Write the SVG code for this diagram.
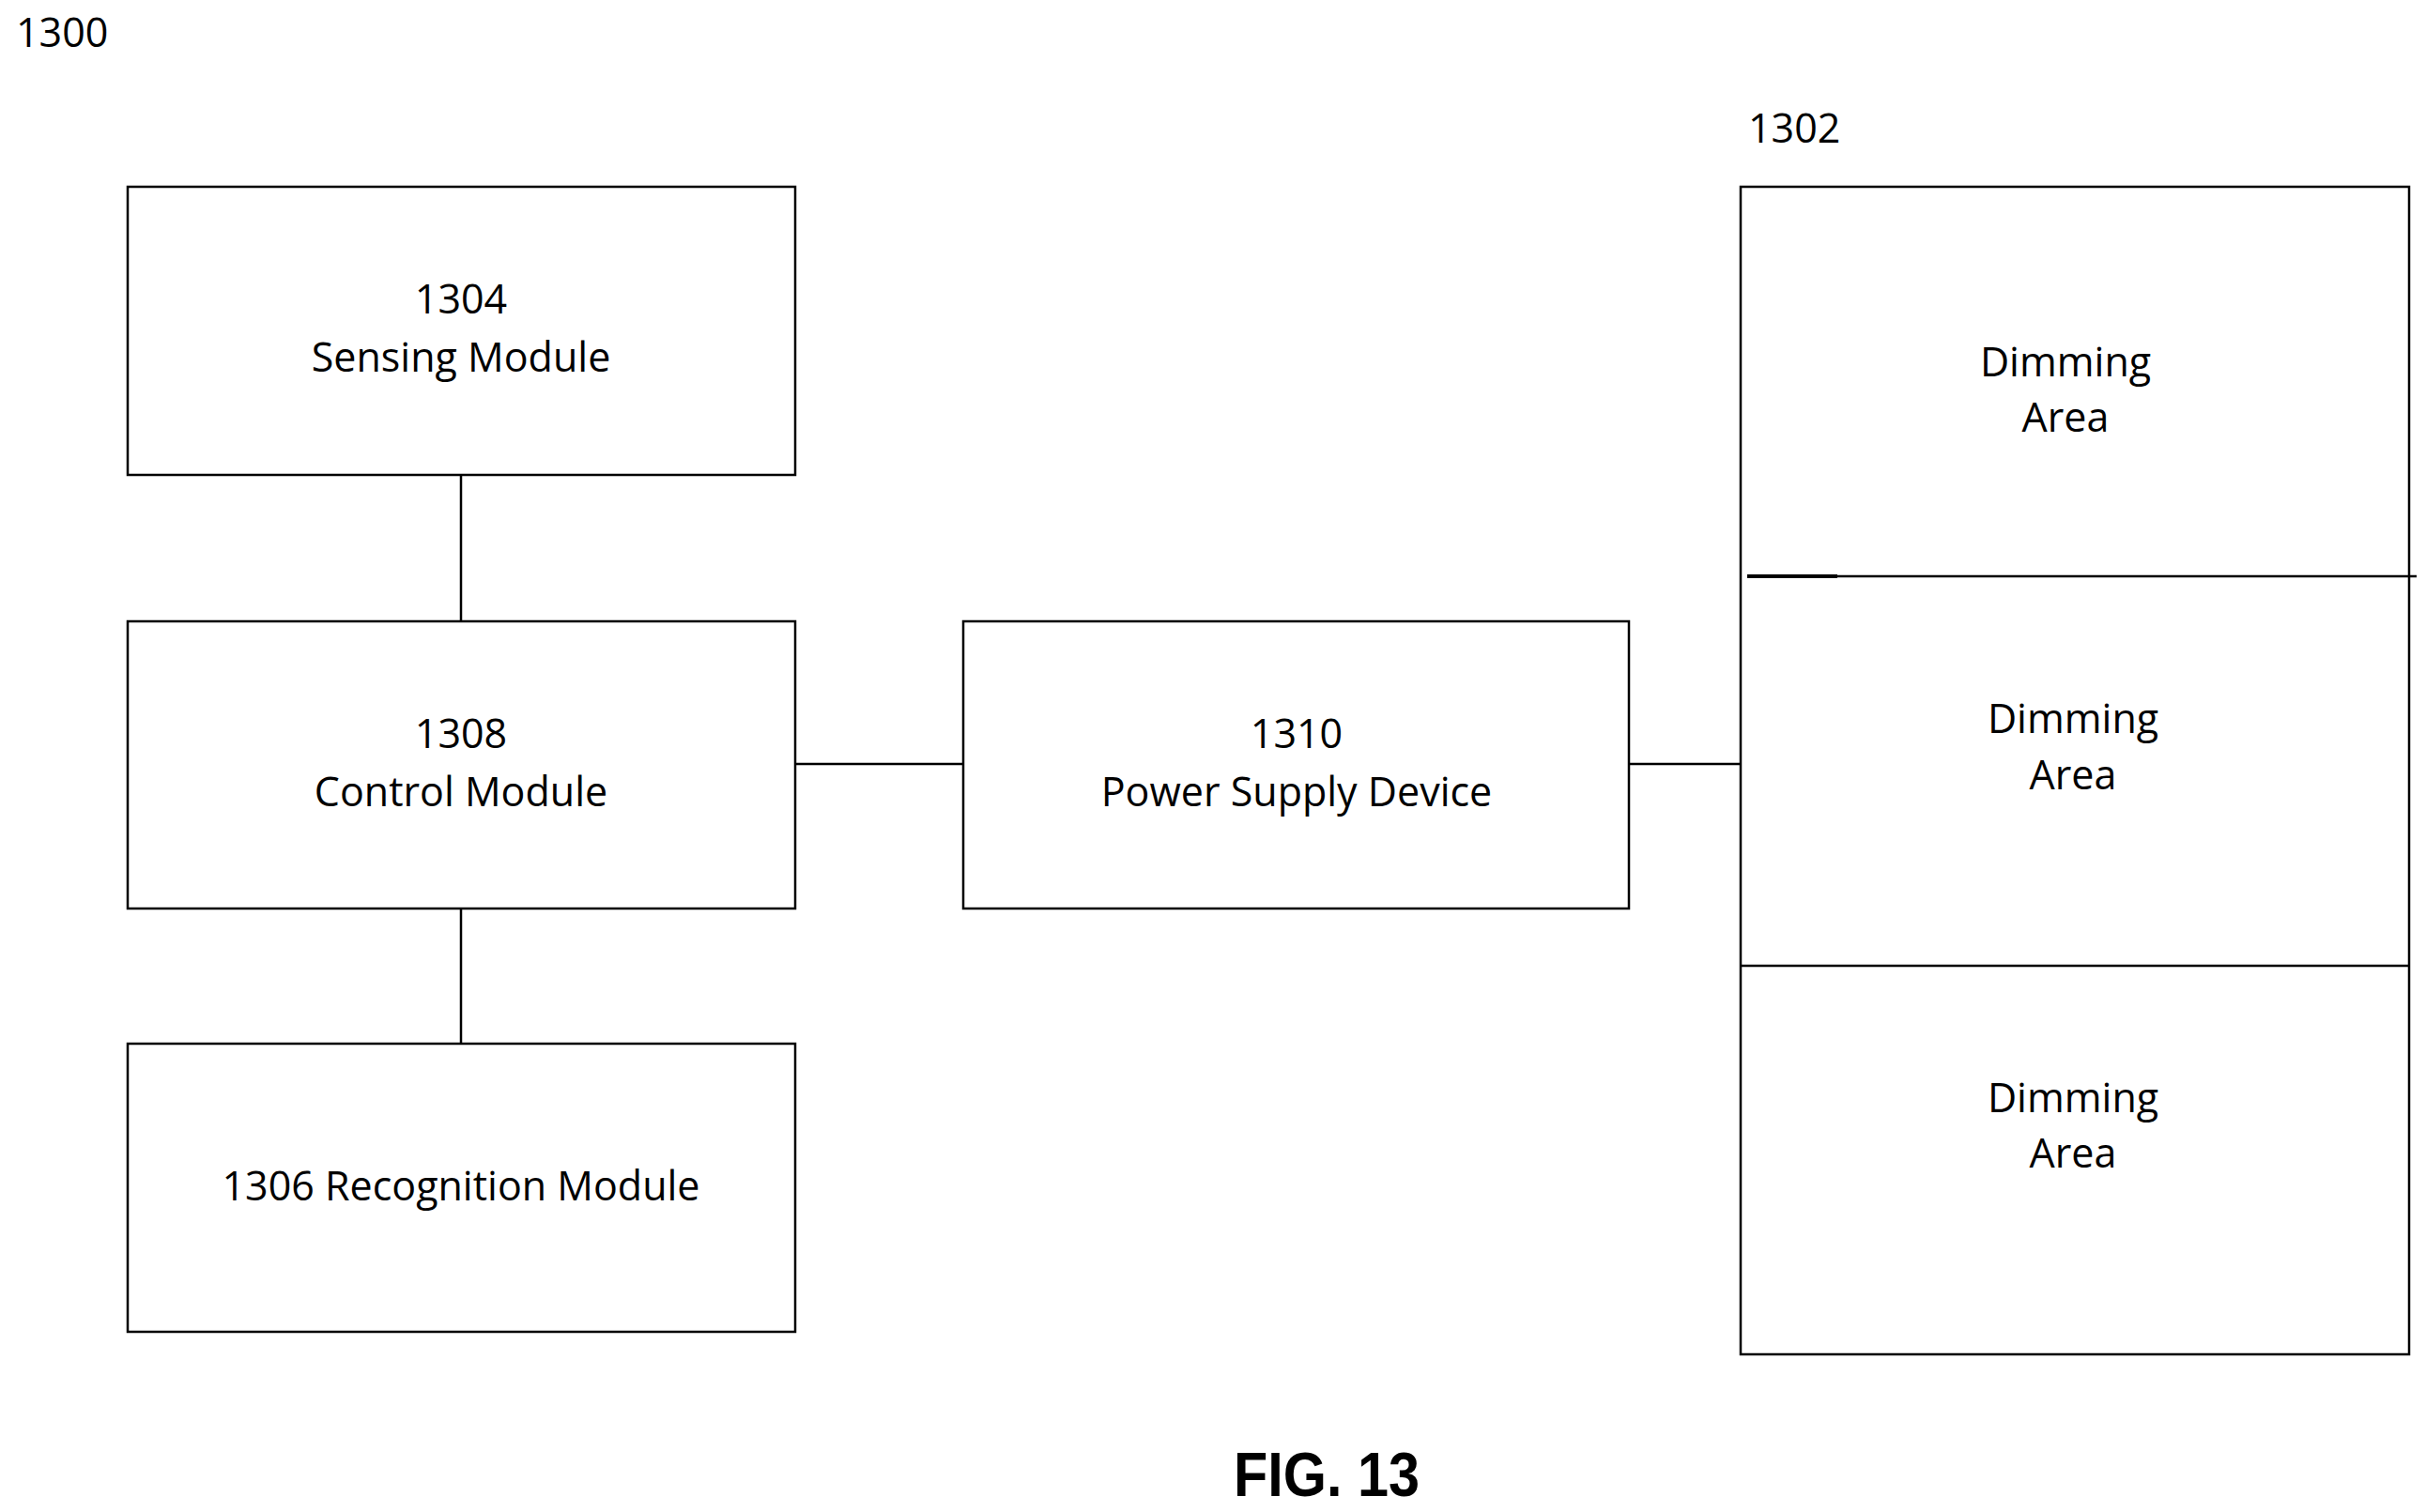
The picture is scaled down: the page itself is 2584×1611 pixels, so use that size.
<svg xmlns="http://www.w3.org/2000/svg" width="2584" height="1611" viewBox="0 0 2584 1611">
<style>
.b{fill:#fff;stroke:#000;stroke-width:2.5}
.l{stroke:#000;stroke-width:2.5;fill:none}
text{font-family:"Open Sans","Liberation Sans",sans-serif;font-size:43px;fill:#000}
.c{text-anchor:middle}
.f{font-family:"Liberation Sans",sans-serif;font-weight:bold;font-size:66px}
</style>
<rect width="2584" height="1611" fill="#fff"/>
<text x="17" y="50">1300</text>
<text x="1862" y="152">1302</text>
<g id="connectors">
<line class="l" x1="491" y1="506" x2="491" y2="662"/>
<line class="l" x1="491" y1="968" x2="491" y2="1112"/>
<line class="l" x1="847" y1="814" x2="1026" y2="814"/>
<line class="l" x1="1735" y1="814" x2="1854" y2="814"/>
</g>
<g id="n1304"><rect class="b" x="136" y="199" width="711" height="307"/>
<text class="c" x="491" y="334">1304</text><text class="c" x="491" y="396">Sensing Module</text></g>
<g id="n1308"><rect class="b" x="136" y="662" width="711" height="306"/>
<text class="c" x="491" y="797">1308</text><text class="c" x="491" y="859">Control Module</text></g>
<g id="n1306"><rect class="b" x="136" y="1112" width="711" height="307"/>
<text class="c" x="491" y="1279">1306 Recognition Module</text></g>
<g id="n1310"><rect class="b" x="1026" y="662" width="709" height="306"/>
<text class="c" x="1381" y="797">1310</text><text class="c" x="1381" y="859">Power Supply Device</text></g>
<g id="n1302"><rect class="b" x="1854" y="199" width="712" height="1244"/>
<line class="l" x1="1861" y1="614" x2="2574" y2="614"/>
<line x1="1861" y1="614" x2="1957" y2="614" stroke="#000" stroke-width="4"/>
<line class="l" x1="1854" y1="1029" x2="2566" y2="1029"/>
<text class="c" x="2200" y="401">Dimming</text><text class="c" x="2200" y="460">Area</text>
<text class="c" x="2208" y="781">Dimming</text><text class="c" x="2208" y="841">Area</text>
<text class="c" x="2208" y="1185">Dimming</text><text class="c" x="2208" y="1244">Area</text></g>
<text class="c f" x="1413" y="1594" transform="translate(1413 0) scale(0.9 1) translate(-1413 0)">FIG. 13</text>
</svg>
